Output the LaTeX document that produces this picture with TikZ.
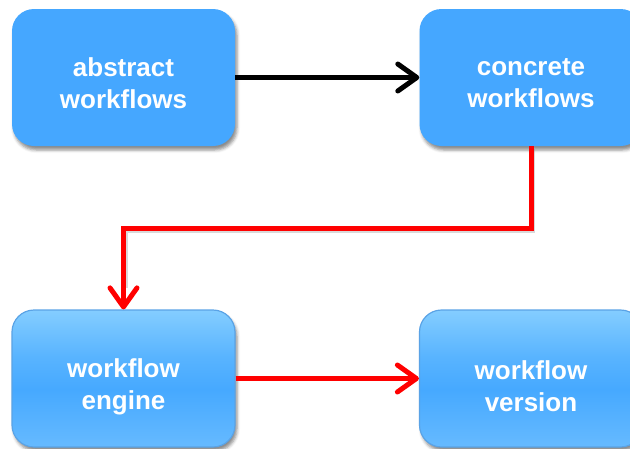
\documentclass[tikz,border=0pt]{standalone}
\usepackage{fontspec}
\setmainfont{Liberation Sans}
\usetikzlibrary{arrows.meta,shadows.blur}

\definecolor{boxblue}{HTML}{45A7FF}
\definecolor{lightblue}{HTML}{84CDFF}
\definecolor{midblue}{HTML}{46A9FF}
\definecolor{lowblue}{HTML}{66BAFF}
\definecolor{edgeblue}{HTML}{5AA3E6}

% vertical gradient for the lower boxes: light top, deeper band below middle
\pgfdeclareverticalshading{panelshade}{100bp}{%
  color(0bp)=(lowblue); color(25bp)=(lowblue); color(46bp)=(midblue);
  color(58bp)=(midblue!70!lightblue); color(75bp)=(lightblue); color(100bp)=(lightblue)}

\tikzset{
  card/.style={rounded corners=22pt, minimum width=223pt, minimum height=137pt,
    inner sep=0pt,
    blur shadow={shadow xshift=2pt, shadow yshift=-4pt, shadow blur radius=3pt, shadow opacity=45}},
  cardtext/.style={align=center, text=white, inner sep=0pt,
    font=\bfseries\fontsize{26}{32}\selectfont},
  flatcard/.style={card, fill=boxblue},
  shadecard/.style={card, shading=panelshade, draw=edgeblue, line width=1.2pt},
  barb/.style={-{Straight Barb[length=19pt,width=27pt,line cap=round,line join=round]}},
  blackarrow/.style={draw=black, line width=5pt, barb},
  redarrow/.style={draw=red, line width=5pt, line join=miter, barb},
}

\begin{document}
\begin{tikzpicture}[x=1pt,y=-1pt]
  \useasboundingbox (0,0) rectangle (630,448);

  \node[flatcard]  (abstract) at (123.5,77.5)  {};
  \node[flatcard]  (concrete) at (531,77.5)    {};
  \node[shadecard] (engine)   at (123.5,378.5) {};
  \node[shadecard] (version)  at (531,378.5)   {};

  \node[cardtext] (abstract-t) at ([yshift=-6pt]abstract.center) {abstract\\workflows};
  \node[cardtext] (concrete-t) at ([yshift=-6pt]concrete.center) {concrete\\workflows};
  \node[cardtext] (engine-t)   at ([yshift=-8pt]engine.center)   {workflow\\engine};
  \node[cardtext] (version-t)  at ([yshift=-8pt]version.center)  {workflow\\version};

  \draw[blackarrow] (abstract.east) -- (concrete.west);

  % soft shadow under the elbow connector
  \draw[gray, opacity=0.3, line width=4pt] ([xshift=2pt,yshift=-3pt]concrete.south) -- ++(0,82) -| ([xshift=2pt]engine.north |- 0,288);
  \draw[redarrow] (concrete.south) -- ++(0,82) -| (engine.north);

  \draw[redarrow] (engine.east) -- (version.west);
\end{tikzpicture}
\end{document}
